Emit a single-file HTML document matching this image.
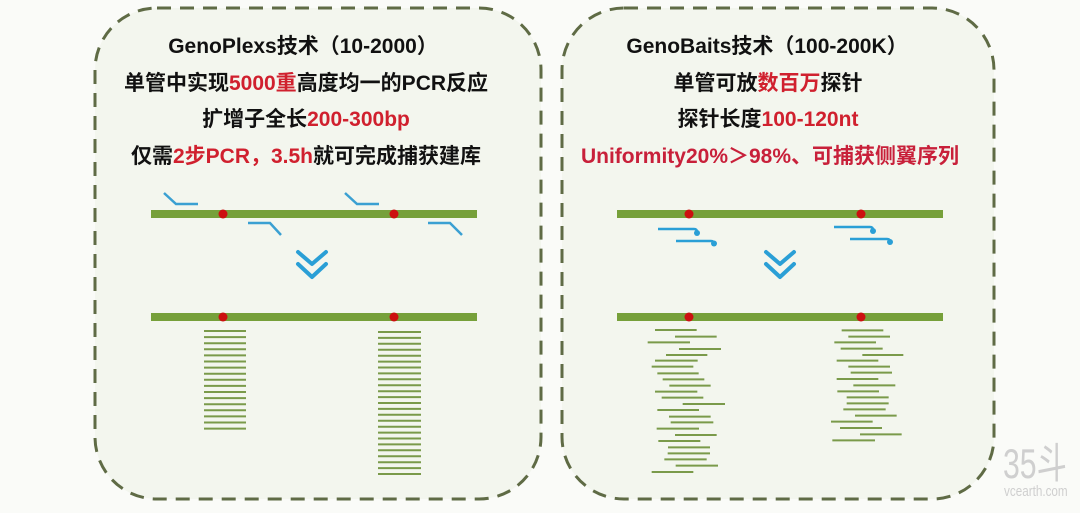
<!DOCTYPE html>
<html><head><meta charset="utf-8">
<style>
html,body{margin:0;padding:0;background:#fafbf8;}
svg{display:block;}
text{font-family:"Liberation Sans","Noto Sans CJK SC",sans-serif;font-weight:bold;font-size:21px;}
</style></head>
<body>
<svg width="1080" height="513" viewBox="0 0 1080 513" xmlns="http://www.w3.org/2000/svg">
<rect width="1080" height="513" fill="#fafbf8"/>
<rect x="95" y="8" width="446" height="491" rx="62" fill="#f3f6ee" stroke="#5f6b45" stroke-width="3" stroke-dasharray="14 9"/>
<rect x="562" y="8" width="432" height="491" rx="62" fill="#f3f6ee" stroke="#5f6b45" stroke-width="3" stroke-dasharray="14 9"/>

<g text-anchor="middle" fill="#111">
<text x="303" y="53">GenoPlexs技术（10-2000）</text>
<text x="306" y="90">单管中实现<tspan fill="#d0202e">5000重</tspan>高度均一的PCR反应</text>
<text x="306" y="126">扩增子全长<tspan fill="#d0202e">200-300bp</tspan></text>
<text x="306" y="163">仅需<tspan fill="#d0202e">2步PCR，3.5h</tspan>就可完成捕获建库</text>
<text x="767" y="53">GenoBaits技术（100-200K）</text>
<text x="768" y="90">单管可放<tspan fill="#d0202e">数百万</tspan>探针</text>
<text x="768" y="126">探针长度<tspan fill="#d0202e">100-120nt</tspan></text>
<text x="770" y="163" fill="#c8203a">Uniformity20%＞98%、可捕获侧翼序列</text>
</g>

<g>
<rect x="151" y="210" width="326" height="8" fill="#76a03a"/>
<rect x="151" y="313" width="326" height="8" fill="#76a03a"/>
<circle cx="223" cy="214" r="4.5" fill="#cc1010"/>
<circle cx="394" cy="214" r="4.5" fill="#cc1010"/>
<circle cx="223" cy="317" r="4.5" fill="#cc1010"/>
<circle cx="394" cy="317" r="4.5" fill="#cc1010"/>
<g fill="none" stroke="#3aa0d2" stroke-width="2.5">
<polyline points="164,193 176,204 198,204"/>
<polyline points="345,193 357,204 379,204"/>
<polyline points="248,223 270,223 281,235"/>
<polyline points="428,223 450,223 462,235"/>
</g>
<g fill="none" stroke="#2a9fd6" stroke-width="4" stroke-linecap="round" stroke-linejoin="round">
<polyline points="298,252 312,264 326,252"/>
<polyline points="298,264 312,277 326,264"/>
</g>
<g stroke="#7a9a4a" stroke-width="2">
<path d="M204 331H246M204 337.1H246M204 343.2H246M204 349.3H246M204 355.4H246M204 361.5H246M204 367.6H246M204 373.7H246M204 379.8H246M204 385.9H246M204 392H246M204 398.1H246M204 404.2H246M204 410.3H246M204 416.4H246M204 422.5H246M204 428.6H246"/>
<path d="M378 332H421M378 337.9H421M378 343.8H421M378 349.8H421M378 355.7H421M378 361.6H421M378 367.5H421M378 373.4H421M378 379.3H421M378 385.3H421M378 391.2H421M378 397.1H421M378 403H421M378 408.9H421M378 414.8H421M378 420.8H421M378 426.7H421M378 432.6H421M378 438.5H421M378 444.4H421M378 450.3H421M378 456.3H421M378 462.2H421M378 468.1H421M378 474H421"/>
</g>
</g>

<g>
<rect x="617" y="210" width="326" height="8" fill="#76a03a"/>
<rect x="617" y="313" width="326" height="8" fill="#76a03a"/>
<circle cx="689" cy="214" r="4.5" fill="#cc1010"/>
<circle cx="861" cy="214" r="4.5" fill="#cc1010"/>
<circle cx="689" cy="317" r="4.5" fill="#cc1010"/>
<circle cx="861" cy="317" r="4.5" fill="#cc1010"/>
<g fill="none" stroke="#2a9fd6" stroke-width="2.5">
<path d="M658 229H694Q697 229 697 232"/>
<path d="M676 241H711Q714 241 714 244"/>
<path d="M834 227H870Q873 227 873 230"/>
<path d="M850 239H887Q890 239 890 242"/>
</g>
<g fill="#2a9fd6">
<circle cx="697" cy="233" r="3"/><circle cx="714" cy="243.5" r="3"/>
<circle cx="873" cy="231" r="3"/><circle cx="890" cy="242" r="3"/>
</g>
<g fill="none" stroke="#2a9fd6" stroke-width="4" stroke-linecap="round" stroke-linejoin="round">
<polyline points="766,252 780,264 794,252"/>
<polyline points="766,264 780,277 794,264"/>
</g>
<g transform="translate(600,190) scale(0.33333)" stroke="#7a9a4a" stroke-width="6">
<path d="M165 420H290M225 440H350M143 457H270M237 477H363M198 495H322M165 512H293M155 530H280M172 550H296M188 568H313M208 587H332M165 605H292M185 623H310M248 642H375M172 660H297M207 680H332M212 697H340M170 716H297M225 735H350M175 753H301M204 772H330M203 790H330M193 808H320M227 827H354M155 846H280"/>
<path d="M725 421H850M745 440H870M703 457H828M722 476H848M787 495H910M710 512H835M745 530H870M752 548H876M710 567H835M760 586H886M712 604H837M740 622H866M740 640H866M730 658H857M765 677H890M693 695H818M720 714H846M780 733H905M697 751H825"/>
</g>
</g>

<g transform="translate(1003,478) scale(0.72,1)">
<text x="0" y="0" fill="#cfcfcf" style="font-weight:normal;font-size:42px">35斗</text>
</g>
<g transform="translate(1004,496) scale(0.78,1)">
<text x="0" y="0" fill="#cfcfcf" style="font-weight:normal;font-size:15px">vcearth.com</text>
</g>
</svg>
</body></html>
